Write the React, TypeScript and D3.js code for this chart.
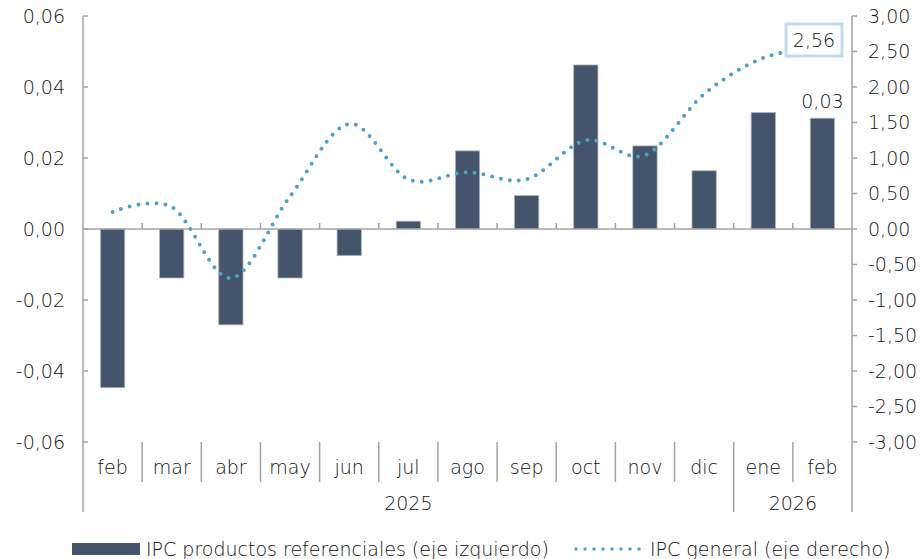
import React from 'react';
import * as d3 from 'd3';

// Month labels, year groups and series values
const MONTHS = ['feb', 'mar', 'abr', 'may', 'jun', 'jul', 'ago', 'sep', 'oct', 'nov', 'dic', 'ene', 'feb'];
const YEARS = [
  { label: '2025', from: 0, to: 11 },
  { label: '2026', from: 11, to: 13 },
];
const REF_PRODUCTS = [-0.0447, -0.0138, -0.027, -0.0138, -0.0075, 0.0022, 0.022, 0.0094, 0.0462, 0.0234, 0.0164, 0.0328, 0.0312];
const IPC_GENERAL = [0.24, 0.31, -0.69, 0.46, 1.48, 0.7, 0.8, 0.7, 1.25, 1.04, 1.9, 2.41, 2.56];
const LEFT_TICKS = [0.06, 0.04, 0.02, 0, -0.02, -0.04, -0.06];
const RIGHT_TICKS = [3, 2.5, 2, 1.5, 1, 0.5, 0, -0.5, -1, -1.5, -2, -2.5, -3];

const BAR_COLOR = '#44546a';
const LINE_COLOR = '#4fa2c4';
const AXIS_COLOR = '#a3a3a3';
const TEXT_COLOR = '#111';
const FONT = '"DejaVu Sans", sans-serif';
const FS = 19;
const FW = 200;

const W = 923;
const H = 559;
const margin = { top: 16, left: 83, right: 852, bottom: 442 };

const fmt = (v: number, digits: number) => v.toFixed(digits).replace('.', ',');

export default function App() {
  const idx = MONTHS.map((_, i) => i);

  const x = d3.scaleBand<number>()
    .domain(idx)
    .range([margin.left, margin.right])
    .paddingInner(0.59)
    .paddingOuter(0.295);
  const step = x.step();
  const cx = (i: number) => (x(i) as number) + x.bandwidth() / 2;
  const edge = (i: number) => margin.left + step * i;

  const yL = d3.scaleLinear().domain([-0.06, 0.06]).range([margin.bottom, margin.top]);
  const yR = d3.scaleLinear().domain([-3, 3]).range([margin.bottom, margin.top]);

  const line = d3.line<number>()
    .x((_, i) => cx(i))
    .y(d => yR(d))
    .curve(d3.curveCardinal.tension(0));

  const zeroY = yL(0);
  const lastI = MONTHS.length - 1;
  const boxCx = 814;
  const boxCy = 40;

  return (
    <svg width={W} height={H} style={{ position: 'absolute', left: 0, top: 0, background: '#fff' }}
      fontFamily={FONT} fontSize={FS} fontWeight={FW}>
      {/* bars */}
      {REF_PRODUCTS.map((v, i) => (
        <rect
          key={'b' + i}
          x={x(i)}
          y={Math.min(yL(v), zeroY)}
          width={x.bandwidth()}
          height={Math.abs(yL(v) - zeroY)}
          fill={BAR_COLOR}
          stroke="#aab2bd"
          strokeWidth={0.8}
        />
      ))}

      {/* zero line with category ticks */}
      <line x1={margin.left} x2={margin.right} y1={zeroY} y2={zeroY} stroke={AXIS_COLOR} strokeWidth={1.5} />
      {idx.slice(1).map(i => (
        <line key={'zt' + i} x1={edge(i)} x2={edge(i)} y1={zeroY - 6} y2={zeroY} stroke={AXIS_COLOR} strokeWidth={1.5} />
      ))}

      {/* IPC general dotted line */}
      <path
        d={line(IPC_GENERAL) || ''}
        fill="none"
        stroke={LINE_COLOR}
        strokeWidth={4}
        strokeLinecap="round"
        strokeDasharray="0 9"
      />

      {/* left axis */}
      <line x1={margin.left} x2={margin.left} y1={margin.top} y2={512} stroke={AXIS_COLOR} strokeWidth={1.5} />
      {LEFT_TICKS.map(t => (
        <g key={'l' + t}>
          <line x1={margin.left} x2={margin.left + 5} y1={yL(t)} y2={yL(t)} stroke={AXIS_COLOR} strokeWidth={1.5} />
          <text x={65} y={yL(t)} dy="0.35em" textAnchor="end" fill={TEXT_COLOR}>
            {fmt(t, 2)}
          </text>
        </g>
      ))}

      {/* right axis */}
      <line x1={margin.right} x2={margin.right} y1={margin.top} y2={512} stroke={AXIS_COLOR} strokeWidth={1.5} />
      {RIGHT_TICKS.map(t => (
        <g key={'r' + t}>
          <line x1={margin.right} x2={margin.right + 5} y1={yR(t)} y2={yR(t)} stroke={AXIS_COLOR} strokeWidth={1.5} />
          <text x={868} y={yR(t)} dy="0.35em" textAnchor="start" fill={TEXT_COLOR}>
            {fmt(t, 2)}
          </text>
        </g>
      ))}

      {/* category separators and labels */}
      {idx.slice(1).map(i => (
        <line
          key={'sep' + i}
          x1={edge(i)}
          x2={edge(i)}
          y1={margin.bottom}
          y2={YEARS.some(yr => yr.from === i) ? 512 : 482}
          stroke={AXIS_COLOR}
          strokeWidth={1.5}
        />
      ))}
      {MONTHS.map((m, i) => (
        <text key={'m' + i} x={cx(i)} y={467} dy="0.35em" textAnchor="middle" fill={TEXT_COLOR}>
          {m}
        </text>
      ))}
      {YEARS.map(yr => (
        <text
          key={yr.label}
          x={(edge(yr.from) + edge(yr.to)) / 2}
          y={503}
          dy="0.35em"
          textAnchor="middle"
          fill={TEXT_COLOR}
        >
          {yr.label}
        </text>
      ))}

      {/* data labels */}
      <text x={cx(lastI)} y={yL(REF_PRODUCTS[lastI]) - 17} dy="0.35em" textAnchor="middle" fill={TEXT_COLOR}>
        {fmt(REF_PRODUCTS[lastI], 2)}
      </text>
      <rect x={boxCx - 28} y={boxCy - 16} width={56} height={32} fill="#fff" stroke="#c6d9f0" strokeWidth={3} />
      <text x={boxCx} y={boxCy} dy="0.35em" textAnchor="middle" fill={TEXT_COLOR}>
        {fmt(IPC_GENERAL[lastI], 2)}
      </text>

      {/* legend */}
      <rect x={72} y={543} width={68} height={12} fill={BAR_COLOR} />
      <text x={146} y={549} dy="0.35em" fill={TEXT_COLOR}>
        IPC productos referenciales (eje izquierdo)
      </text>
      <line x1={576} x2={640} y1={549} y2={549} stroke={LINE_COLOR} strokeWidth={3.5} strokeLinecap="round" strokeDasharray="0 9" />
      <text x={650} y={549} dy="0.35em" fill={TEXT_COLOR}>
        IPC general (eje derecho)
      </text>
    </svg>
  );
}
